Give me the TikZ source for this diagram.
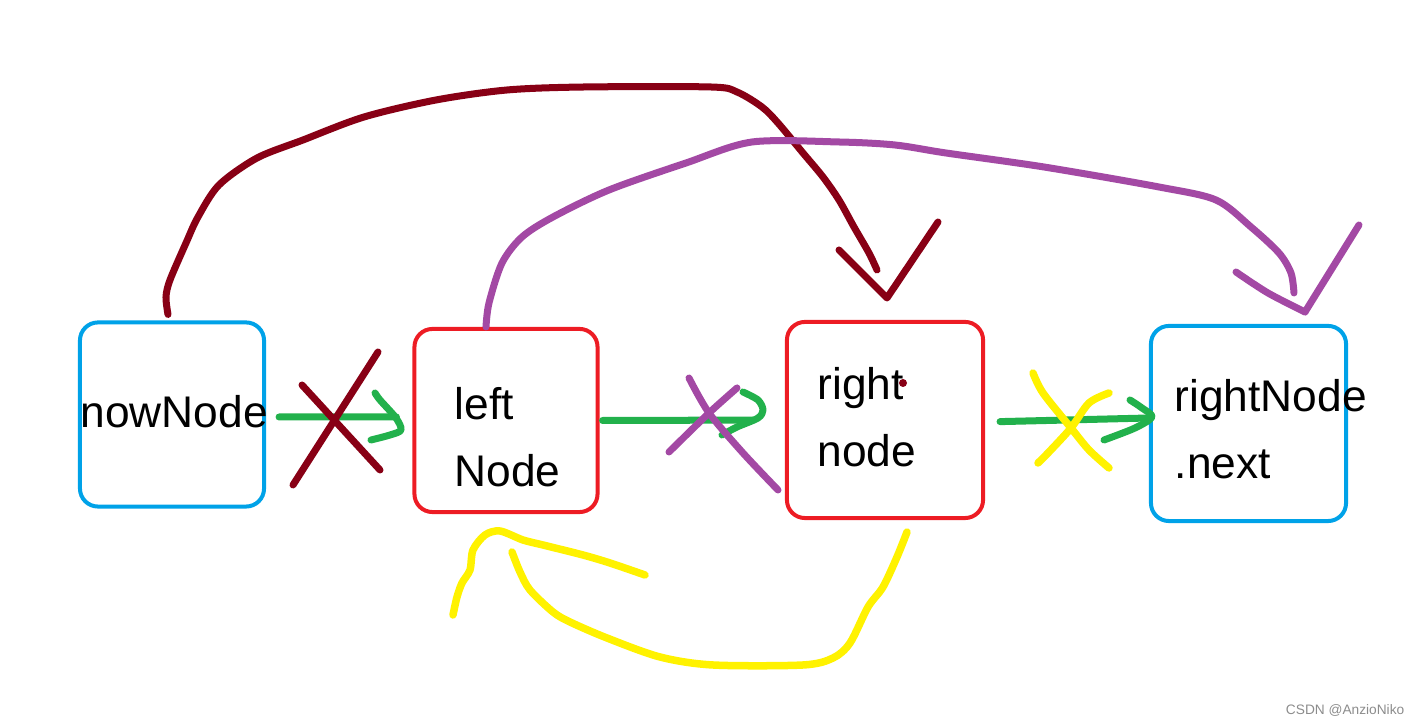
\documentclass[tikz,border=0pt]{standalone}
\usepackage{fontspec}
\setmainfont{Liberation Sans}

\definecolor{boxblue}{RGB}{0,162,232}
\definecolor{boxred}{RGB}{237,28,36}
\definecolor{inkred}{RGB}{136,0,21}
\definecolor{inkgreen}{RGB}{34,177,76}
\definecolor{inkpurple}{RGB}{163,73,164}
\definecolor{inkyellow}{RGB}{255,242,0}

\tikzset{
  box/.style={draw, line width=0.04cm, rounded corners=0.18cm,
    minimum width=#1, minimum height=#1, inner sep=0pt},
  txt/.style={anchor=base west, inner sep=0pt,
    font=\fontsize{12.6}{15}\selectfont},
  pen/.style={line width=0.07cm, line cap=round, line join=round},
  redink/.style={pen, inkred},
  greenink/.style={pen, inkgreen},
  purpleink/.style={pen, inkpurple},
  yellowink/.style={pen, inkyellow, line width=0.075cm}
}

\begin{document}
\begin{tikzpicture}[x=0.01cm, y=-0.01cm]
  \useasboundingbox (0,0) rectangle (1420,725);

  \node[box=1.84cm, boxblue] (now) at (172,414.5) {};
  \node[box=1.83cm, boxred] (left) at (506,420.5) {};
  \node[box=1.96cm, boxred] (right) at (885,420) {};
  \node[box=1.95cm, boxblue] (next) at (1248.5,423.5) {};

  \node[txt] (nowtxt) at (80,428) {nowNode};
  \node[txt] (lefttxt) at (454,420) {left};
  \node[txt] (lefttxtb) at (454,487) {Node};
  \node[txt] (righttxt) at (817,400) {right};
  \node[txt] (righttxtb) at (817,467) {node};
  \node[txt] (nexttxt) at (1174,412) {rightNode};
  \node[txt] (nexttxtb) at (1174,479) {.next};
  \fill[inkred] (903,383) circle (4);

  \coordinate (tipred) at (887,298);
  \coordinate (tippurple) at (1305,312);

  \draw[greenink, shorten <=0.13cm, shorten >=0.16cm] ([yshift=-0.025cm]now.east) -- ([yshift=0.035cm]left.west);
  \draw[greenink] plot[smooth] coordinates {(375,393) (380,400) (396,418) (401,430) (390,435) (371,440)};
  \draw[greenink, shorten <=0.03cm, shorten >=0.32cm] (left.east) -- (right.west);
  \draw[greenink] plot[smooth] coordinates {(743,392) (758,400) (763,410) (758,418) (737,427) (722,435)};
  \draw[greenink, shorten <=0.15cm] ([yshift=-0.02cm]right.east) -- ([yshift=0.055cm]next.west);
  \draw[greenink] plot[smooth] coordinates {(1130,400) (1142,408) (1152,417) (1135,428) (1104,440)};

  \draw[redink] (302,385) -- (380,470);
  \draw[redink] (378,352) -- (293,485);
  \draw[purpleink] plot[smooth] coordinates {(689,378) (709,413) (743,453) (778,490)};
  \draw[purpleink] plot[smooth] coordinates {(737,388) (709,413) (669,452)};
  \draw[yellowink] plot[smooth] coordinates {(1033,373) (1043,393) (1071,428) (1089,450) (1109,468)};
  \draw[yellowink] plot[smooth] coordinates {(1109,393) (1089,403) (1071,428) (1048,453) (1038,463)};

  \draw[redink] plot[smooth] coordinates {([xshift=-0.04cm, yshift=0.06cm]now.north) (166,297) (170,280) (186,243)
    (198,217) (219,185) (257,158) (303,140) (364,117) (436,100) (507,90) (584,87)
    (711,87) (737,92) (762,107) (778,123) (803,153) (823,177) (839,200) (854,227)
    (869,253) (877,270)};
  \draw[redink] (839,250) -- (tipred) -- (938,222);

  \draw[purpleink] plot[smooth] coordinates {([xshift=-0.2cm]left.north) (489,303) (502,263)
    (522,237) (553,217) (609,190) (686,163) (752,142) (839,142) (895,145) (946,153)
    (1044,167) (1159,187) (1216,200) (1251,227) (1279,253) (1291,273) (1294,293)};
  \draw[purpleink] plot[smooth] coordinates {(1236,272) (1268,293) (tippurple)};
  \draw[purpleink] (tippurple) -- (1359,225);

  \draw[yellowink] plot[smooth] coordinates {([xshift=0.22cm, yshift=-0.12cm]right.south)
    (897,557) (883,587) (868,607) (850,643) (833,658) (803,665) (713,665) (660,657)
    (607,638) (570,622) (553,612) (530,590) (520,572) (512,552)};
  \draw[yellowink] plot[smooth] coordinates {(453,615) (457,597) (462,583) (470,570)
    (473,550) (485,535) (500,531) (523,540) (543,545) (583,555) (610,563) (645,575)};

  \node[anchor=east, inner sep=0pt, text=black!45, font=\fontsize{3.9}{4.5}\selectfont]
    (mark) at (1405,710) {CSDN @AnzioNiko};
\end{tikzpicture}
\end{document}
